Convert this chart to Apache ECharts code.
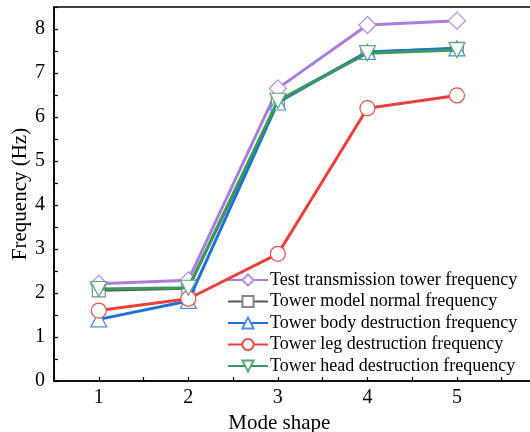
<!DOCTYPE html>
<html>
<head>
<meta charset="utf-8">
<script src="https://cdn.jsdelivr.net/npm/echarts@6/dist/echarts.min.js"></script>
<style>html,body{margin:0;padding:0;background:#fff}#c{width:530px;height:432px}</style>
</head>
<body>
<div id="c"></div>
<script>
const modes = [1, 2, 3, 4, 5];
const seriesNames = [
  'Test transmission tower frequency',
  'Tower model normal frequency',
  'Tower body destruction frequency',
  'Tower leg destruction frequency',
  'Tower head destruction frequency'
];
const testTower = [2.21, 2.29, 6.65, 8.09, 8.19];
const modelNormal = [2.06, 2.11, 6.36, 7.47, 7.55];
const bodyDestr = [1.40, 1.82, 6.33, 7.48, 7.56];
const legDestr = [1.60, 1.87, 2.89, 6.20, 6.49];
const headDestr = [2.09, 2.12, 6.37, 7.45, 7.52];

const allValues = [testTower, modelNormal, bodyDestr, legDestr, headDestr];
const lineColors = ['#a87ddb', '#555555', '#1f6fdc', '#e8413b', '#3a9a5b'];
const markColors = ['#b48ee0', '#888888', '#4a8ce6', '#e0524c', '#5aa877'];
const symbols = [
  'diamond',
  'rect',
  'triangle',
  'circle',
  'path://M0,0 L10,0 L5,10 Z'
];
const symSizes = [[17,17], [13,13], [16,15], [15,15], [16,15]];

const font = 'Liberation Serif';
const chart = echarts.init(document.getElementById('c'));

const series = seriesNames.map((n, i) => ({
  name: n,
  type: 'line',
  data: modes.map((m, j) => [m, allValues[i][j]]),
  symbol: symbols[i],
  symbolSize: symSizes[i],
  showAllSymbol: true,
  lineStyle: { color: lineColors[i], width: 3 },
  itemStyle: { color: '#fff', borderColor: markColors[i], borderWidth: 1.2 },
  z: 2 + i
}));

chart.setOption({
  animation: false,
  backgroundColor: '#fff',
  grid: { left: 54, top: 7, width: 492.5, bottom: 51, show: true, borderColor: '#000', borderWidth: 1.5,
    containLabel: false, outerBoundsMode: 'none' },
  xAxis: {
    type: 'value', min: 0.5, max: 6, interval: 0.5,
    name: 'Mode shape', nameLocation: 'middle', nameGap: 24,
    nameTextStyle: { fontFamily: font, fontSize: 21, color: '#000', padding: [0, 42, 0, 0] },
    axisLine: { lineStyle: { color: '#000', width: 1.5 } },
    axisTick: { inside: true, length: 4, lineStyle: { color: '#000', width: 1.2 } },
    axisLabel: { fontFamily: font, fontSize: 20, color: '#000', margin: 7,
      formatter: v => (Math.abs(v - Math.round(v)) < 1e-9 && v >= 1 && v <= 5) ? String(Math.round(v)) : '' },
    splitLine: { show: false }
  },
  yAxis: {
    type: 'value', min: 0, max: 8.5, interval: 0.5,
    name: 'Frequency (Hz)', nameLocation: 'middle', nameGap: 23, nameMoveOverlap: false,
    nameTextStyle: { fontFamily: font, fontSize: 21, color: '#000' },
    axisLine: { show: true, lineStyle: { color: '#000', width: 1.5 } },
    axisTick: { show: true, inside: true, length: 4, lineStyle: { color: '#000', width: 1.2 } },
    axisLabel: { fontFamily: font, fontSize: 20, color: '#000', margin: 9,
      formatter: v => (Math.abs(v - Math.round(v)) < 1e-9) ? String(Math.round(v)) : '' },
    splitLine: { show: false }
  },
  legend: {
    orient: 'vertical', left: 222, top: 266,
    itemWidth: 40, itemHeight: 14, itemGap: 3.5,
    textStyle: { fontFamily: font, fontSize: 18, color: '#000', lineHeight: 17, padding: [0, 0, 0, -3] },
    data: seriesNames
  },
  series: series
});
</script>
</body>
</html>
